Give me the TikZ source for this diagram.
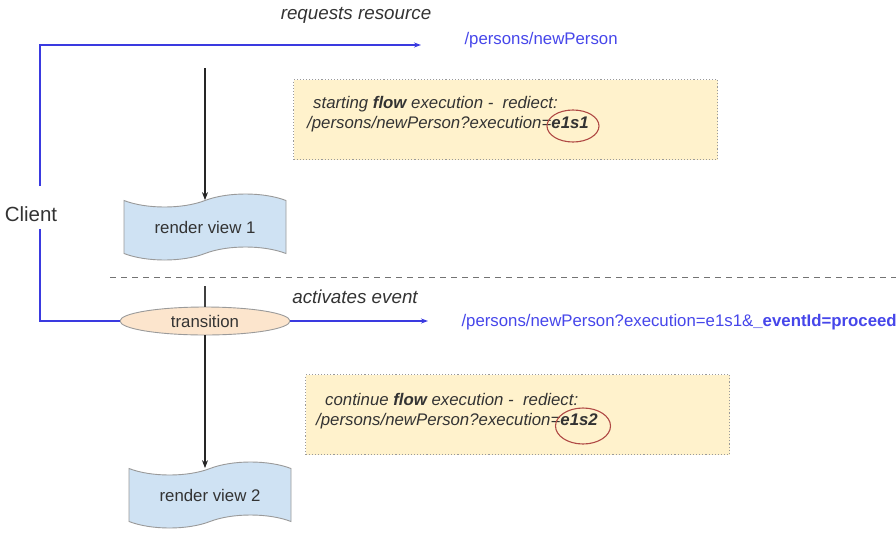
\documentclass[tikz,border=0pt]{standalone}
\usepackage{fontspec}
\setmainfont{Liberation Sans}
\usetikzlibrary{arrows.meta, shapes.geometric, shapes.symbols}
\definecolor{cflow}{HTML}{3A3AE0}
\definecolor{curl}{HTML}{4646EA}
\definecolor{ctext}{HTML}{333333}
\definecolor{cview}{HTML}{CFE2F3}
\definecolor{cpeach}{HTML}{FCE5CD}
\definecolor{cnote}{HTML}{FFF2CC}
\definecolor{cedge}{HTML}{9A9A9A}
\definecolor{cred}{HTML}{B04A45}
\tikzset{
  every picture/.style={font=\fontsize{16.8}{19}\selectfont, text=ctext},
  view/.style={tape, draw=cedge, fill=cview, line width=0.9pt, minimum width=162pt, minimum height=66pt, tape bend height=13pt},
  state/.style={ellipse, draw=cedge, fill=cpeach, line width=0.9pt, minimum width=170pt, minimum height=28pt, inner sep=0pt},
  note/.style={draw=cedge, dotted, fill=cnote, line width=1.1pt, anchor=north west},
  notetext/.style={anchor=west, align=left, font=\fontsize{16.8}{19.5}\selectfont\itshape, inner sep=0pt},
  ring/.style={ellipse, draw=cred, line width=1.1pt, inner sep=0pt},
  tag/.style={font=\fontsize{18.8}{22}\selectfont\itshape},
  flow/.style={-{Stealth[length=7pt, width=5pt]}, draw=cflow, line width=1.3pt},
  call/.style={-{Stealth[length=8pt, width=6pt]}, draw=black!85, line width=1.2pt},
}

\begin{document}
\begin{tikzpicture}[x=1pt, y=-1pt]
  \useasboundingbox (0,0) rectangle (896,533);
  % client side
  \node[font=\fontsize{20.5}{24}\selectfont] (client) at (31,214) {Client};
  \coordinate (c1) at (40,186);
  \coordinate (c2) at (40,229);
  \coordinate (req) at (421,45);
  \coordinate (evt) at (428,321);
  \node[tag] (lreq) at (356,15) {requests resource};
  \node[anchor=west, text=curl] (res) at (461,40) {/persons/newPerson};
  % first step
  \node[note, minimum width=424pt, minimum height=80pt] (n1) at (293,79) {};
  \node[notetext] (t1) at (307,114) {\hspace{6pt}starting \textbf{flow} execution -\ \ rediect:\\/persons/newPerson?execution=\textbf{e1s1}};
  \node[ring, minimum width=52pt, minimum height=32pt] (r1) at (573,126) {};
  \coordinate (a1) at (205,68);
  \node[view] (v1) at (205,227) {render view 1};
  \draw[call] (a1) -- (a1 |- v1.north);
  \draw[dashed, draw=black!55, line width=1pt, dash pattern=on 6pt off 5pt] (110,277) -- (896,277);
  % second step
  \node[state] (trans) at (205,321) {transition};
  \coordinate (s1) at (205,286);
  \draw[draw=black!75, line width=1.2pt] (s1) -- (trans.north);
  \node[tag] (levt) at (355,297) {activates event};
  \node[anchor=west, text=curl] (res2) at (458,322) {/persons/newPerson?execution=e1s1\&\textbf{\_eventId=proceed}};
  \draw[flow] (c1) |- (req);
  \draw[draw=cflow, line width=1.3pt] (c2) |- (trans.west);
  \draw[flow] (trans.east) -- (evt);
  \node[note, minimum width=424pt, minimum height=80pt] (n2) at (305,374) {};
  \node[notetext] (t2) at (316,411) {\hspace{9pt}continue \textbf{flow} execution -\ \ rediect:\\/persons/newPerson?execution=\textbf{e1s2}};
  \node[ring, minimum width=55pt, minimum height=36pt] (r2) at (583,426) {};
  \node[view] (v2) at (210,495) {render view 2};
  \draw[call] (trans.south) -- (trans.south |- v2.north);
\end{tikzpicture}
\end{document}
